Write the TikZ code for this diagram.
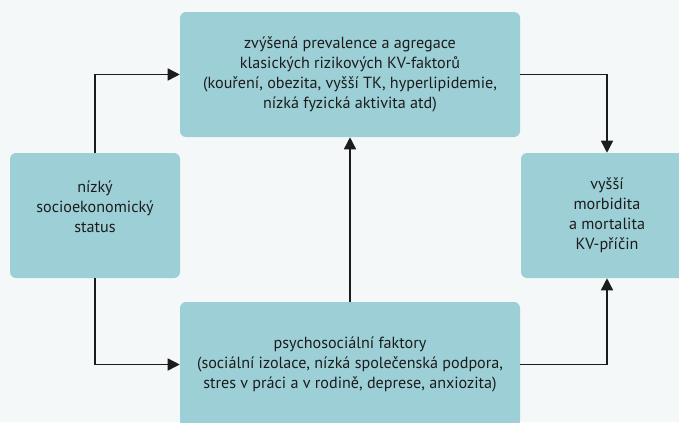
\documentclass[tikz,border=0pt]{standalone}
\usepackage{fontspec}
\setmainfont{PT Sans}
\usetikzlibrary{arrows.meta,calc}
\definecolor{bg}{HTML}{F4F8F8}
\definecolor{boxc}{HTML}{9DCFD6}
\definecolor{ink}{HTML}{1C1C1C}
\tikzset{
  box/.style={draw=none, fill=boxc, rounded corners=4.5pt, inner sep=0pt, align=center,
    font=\fontsize{12.1pt}{15pt}\selectfont, text=ink},
  conn/.style={draw=ink, line width=1.1pt, -{Triangle[length=9pt,width=9pt]}},
  lbl/.style={align=center, font=\fontsize{12.1pt}{15pt}\selectfont, text=ink, inner sep=0pt}
}
\begin{document}
\begin{tikzpicture}[x=0.75pt,y=-0.75pt]
\useasboundingbox (0,0) rectangle (679,422);
\clip (0,0) rectangle (679,422);
\fill[bg] (0,0) rectangle (679,422);
\node[box, minimum width=255pt, minimum height=93.75pt] (top) at (350,74.5)
  {zvýšená prevalence a agregace\\klasických rizikových KV-faktorů\\(kouření, obezita, vyšší TK, hyperlipidemie,\\nízká fyzická aktivita atd)};
\node[box, minimum width=127.5pt, minimum height=93.75pt] (low) at (95,215.5) {};
\node[lbl] at ($(low.center)+(0,-9)$) {nízký\\socioekonomický\\status};
\node[box, minimum width=129pt, minimum height=93.75pt] (out) at (607,215.5)
  {vyšší\\morbidita\\a mortalita\\KV-příčin};
\node[box, minimum width=255pt, minimum height=93.75pt] (psy) at (350,364.5)
  {psychosociální faktory\\(sociální izolace, nízká společenská podpora,\\stres v práci a v rodině, deprese, anxiozita)};
\draw[conn] (low.north) |- (top.west);
\draw[conn] (low.south) |- (psy.west);
\draw[conn] (psy.north) -- (top.south);
\draw[conn] (top.east) -| (out.north);
\draw[conn] (psy.east) -| (out.south);
\end{tikzpicture}
\end{document}
